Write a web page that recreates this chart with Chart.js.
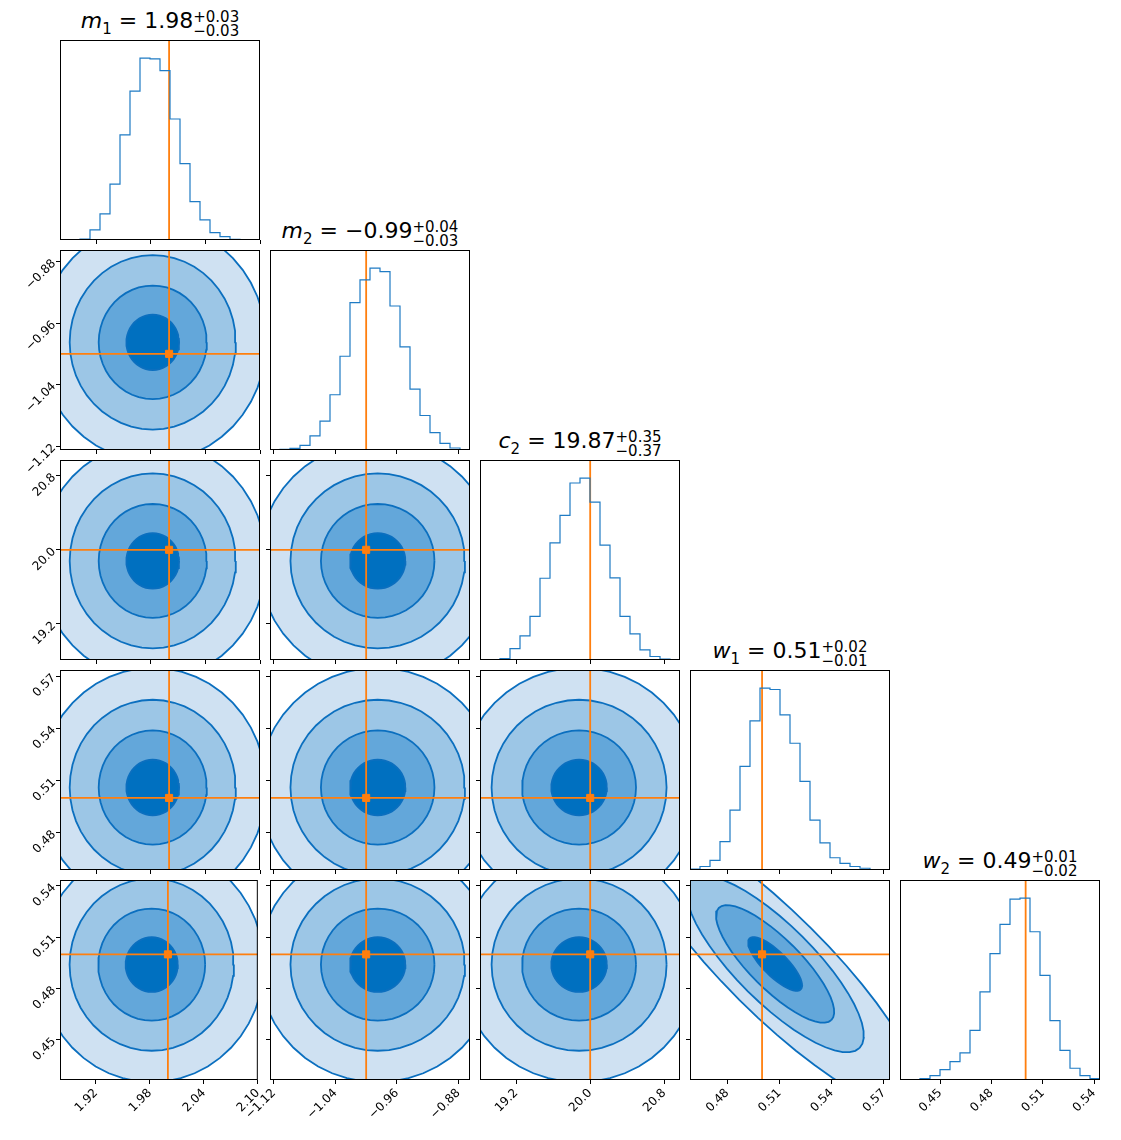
<!DOCTYPE html>
<html>
<head>
<meta charset="utf-8">
<script src="https://cdn.jsdelivr.net/npm/chart.js@4.4.0/dist/chart.umd.min.js"></script>
<style>
  body { margin: 0; background: #fff; width: 1121px; height: 1140px; position: relative; overflow: hidden; }
  canvas { position: absolute; }
  .ttl { position: absolute; width: 300px; text-align: center; font-family: 'DejaVu Sans'; font-size: 22px; color: #000; white-space: nowrap; }
  .ttl i { font-style: italic; }
  .ttl .sb { font-size: 15px; position: relative; top: 6px; }
  .ss { display: inline-block; vertical-align: -8px; font-size: 15px; line-height: 14px; text-align: left; }
  .ss span { display: block; }
</style>
</head>
<body>
<script>
// 参数与坐标范围
const paramSym = ['m', 'm', 'c', 'w', 'w'];
const paramSub = ['1', '2', '2', '1', '2'];
const titleMed = ['1.98', '−0.99', '19.87', '0.51', '0.49'];
const titlePlus = ['+0.03', '+0.04', '+0.35', '+0.02', '+0.01'];
const titleMinus = ['−0.03', '−0.03', '−0.37', '−0.01', '−0.02'];
const axisLo = [1.88, -1.125, 18.81, 0.4586, 0.4265];
const axisHi = [2.10, -0.865, 20.97, 0.5735, 0.5435];
const truths = [2.0, -1.0, 20.0, 0.5, 0.5];

// 刻度
const tickVals = [
  [1.92, 1.98, 2.04, 2.10],
  [-1.12, -1.04, -0.96, -0.88],
  [19.2, 20.0, 20.8],
  [0.48, 0.51, 0.54, 0.57],
  [0.45, 0.48, 0.51, 0.54]
];
const tickText = [
  ['1.92', '1.98', '2.04', '2.10'],
  ['−1.12', '−1.04', '−0.96', '−0.88'],
  ['19.2', '20.0', '20.8'],
  ['0.48', '0.51', '0.54', '0.57'],
  ['0.45', '0.48', '0.51', '0.54']
];

// 直方图计数（20 个区间）
const histM1 = [0, 1, 3, 30, 78, 166, 313, 443, 541, 539, 504, 360, 227, 114, 60, 22, 10, 2, 1, 0];
const histM2 = [0, 2, 5, 14, 42, 86, 165, 280, 440, 508, 543, 533, 430, 308, 182, 103, 52, 20, 6, 0];
const histC2 = [0, 0, 3, 26, 55, 100, 187, 268, 331, 405, 416, 361, 263, 188, 100, 60, 23, 8, 2, 0];
const histW1 = [2, 8, 22, 65, 137, 237, 341, 416, 413, 355, 290, 203, 114, 62, 28, 15, 8, 4, 1, 0];
const histW2 = [0, 0, 3, 10, 24, 42, 62, 114, 202, 290, 357, 415, 417, 340, 240, 136, 68, 27, 10, 3];
const hists = [histM1, histM2, histC2, histW1, histW2];

// 等高线：中心与尺度
const contourCenter = [1.982, -0.985, 19.88, 0.506, 0.494];
const contourScale = [0.029, 0.036, 0.30, 0.016, 0.016];
const ringMult = [1, 2.05, 3.15, 4.3];
// w1-w2 相关面板：主轴/次轴半向量
const w1w2Center = [0.5075, 0.4944];
const w1w2Major = [0.0147, -0.0149];
const w1w2Minor = [0.0049, 0.0050];
const w1w2MajorMult = [1, 2.2, 3.3, 5.5];
const w1w2MinorMult = [1, 2.1, 3.2, 4.2];

const fillColors = ['#0070c0', '#63a7da', '#9cc6e6', '#cfe1f2'];
const lineBlue = '#0b6fbf';
const orange = '#ff7f0e';

const PX0 = 60, PY0 = 40, STEP = 210, SIZE = 200;
const ML = 60, MT = 10, MR = 10, MB = 60;

const framePlugin = {
  id: 'frame',
  afterDraw(chart) {
    const a = chart.chartArea, c = chart.ctx;
    c.save();
    c.strokeStyle = '#000';
    c.lineWidth = 1;
    c.strokeRect(Math.round(a.left) + 0.5, Math.round(a.top) + 0.5, a.right - a.left - 1, a.bottom - a.top - 1);
    c.restore();
  }
};

function ring(cx, cy, ux, uy, vx, vy) {
  const pts = [];
  for (let k = 0; k <= 48; k++) {
    const t = k / 48 * Math.PI * 2;
    pts.push({ x: cx + Math.cos(t) * ux + Math.sin(t) * vx, y: cy + Math.cos(t) * uy + Math.sin(t) * vy });
  }
  return pts;
}

function axisCfg(p, showLabels, showTicks, horizontal) {
  return {
    type: 'linear',
    min: axisLo[p],
    max: axisHi[p],
    afterBuildTicks: s => { s.ticks = tickVals[p].map(v => ({ value: v })); },
    afterFit: s => { if (horizontal) s.height = MB; else s.width = ML; },
    ticks: {
      display: showLabels,
      autoSkip: false,
      minRotation: 45,
      maxRotation: 45,
      padding: 2,
      color: '#000',
      font: { family: 'DejaVu Sans', size: 12 },
      callback: (v, i) => tickText[p][i]
    },
    grid: { display: showTicks, drawOnChartArea: false, tickLength: 4, color: '#000' },
    border: { display: false }
  };
}

function makeCanvas(col, row) {
  const cv = document.createElement('canvas');
  cv.width = ML + SIZE + MR;
  cv.height = MT + SIZE + MB;
  cv.style.left = (PX0 + col * STEP - ML) + 'px';
  cv.style.top = (PY0 + row * STEP - MT) + 'px';
  cv.style.zIndex = 10 - col;
  document.body.appendChild(cv);
  return cv;
}

function truthLines(px, py) {
  const ds = [];
  ds.push({ data: [{ x: truths[px], y: axisLo[py] }, { x: truths[px], y: axisHi[py] }], showLine: true, borderColor: orange, borderWidth: 1.8, pointRadius: 0, order: 0 });
  ds.push({ data: [{ x: axisLo[px], y: truths[py] }, { x: axisHi[px], y: truths[py] }], showLine: true, borderColor: orange, borderWidth: 1.8, pointRadius: 0, order: 0 });
  ds.push({ data: [{ x: truths[px], y: truths[py] }], pointStyle: 'rect', pointRadius: 5, backgroundColor: orange, borderColor: orange, order: 0 });
  return ds;
}

const baseOpts = {
  responsive: false,
  animation: false,
  devicePixelRatio: 1,
  layout: { padding: { top: MT, right: MR, left: 0, bottom: 0 } },
  plugins: { legend: { display: false }, tooltip: { enabled: false } }
};

for (let row = 0; row < 5; row++) {
  for (let col = 0; col <= row; col++) {
    const cv = makeCanvas(col, row);
    const bottom = row === 4;
    const left = col === 0;
    let datasets = [], yScale;

    if (col === row) {
      const h = hists[col];
      const lo = axisLo[col], hi = axisHi[col], w = (hi - lo) / h.length;
      const pts = h.map((c, i) => ({ x: lo + i * w, y: c }));
      pts.push({ x: hi, y: h[h.length - 1] });
      datasets.push({ data: pts, showLine: true, stepped: 'before', borderColor: '#1f7bc4', borderWidth: 1.2, pointRadius: 0 });
      datasets.push({ data: [{ x: truths[col], y: 0 }, { x: truths[col], y: Math.max(...h) * 1.2 }], showLine: true, borderColor: orange, borderWidth: 1.8, pointRadius: 0 });
      yScale = {
        type: 'linear', min: 0, max: Math.max(...h) * 1.1,
        afterFit: s => { s.width = ML; },
        ticks: { display: false }, grid: { display: false }, border: { display: false }
      };
    } else {
      const px = col, py = row;
      for (let k = 3; k >= 0; k--) {
        let pts;
        if (px === 3 && py === 4) {
          const a = w1w2MajorMult[k], b = w1w2MinorMult[k];
          pts = ring(w1w2Center[0], w1w2Center[1], w1w2Major[0] * a, w1w2Major[1] * a, w1w2Minor[0] * b, w1w2Minor[1] * b);
        } else {
          const m = ringMult[k];
          pts = ring(contourCenter[px], contourCenter[py], contourScale[px] * m, 0, 0, contourScale[py] * m);
        }
        datasets.push({ data: pts, showLine: true, fill: 'shape', backgroundColor: fillColors[k], borderColor: lineBlue, borderWidth: 1.8, pointRadius: 0, tension: 0, order: k + 1 });
      }
      datasets = datasets.concat(truthLines(px, py));
      yScale = axisCfg(py, left, true, false);
    }

    new Chart(cv, {
      type: 'scatter',
      data: { datasets },
      options: Object.assign({}, baseOpts, {
        scales: { x: axisCfg(col, bottom, true, true), y: yScale }
      }),
      plugins: [framePlugin]
    });
  }
}

// 标题
for (let i = 0; i < 5; i++) {
  const d = document.createElement('div');
  d.className = 'ttl';
  d.style.left = (PX0 + i * STEP + SIZE / 2 - 150) + 'px';
  d.style.top = (PY0 + i * STEP - 32) + 'px';
  d.innerHTML = '<i>' + paramSym[i] + '</i><span class="sb">' + paramSub[i] + '</span> = ' + titleMed[i] +
    '<span class="ss"><span>' + titlePlus[i] + '</span><span>' + titleMinus[i] + '</span></span>';
  document.body.appendChild(d);
}
</script>
</body>
</html>
